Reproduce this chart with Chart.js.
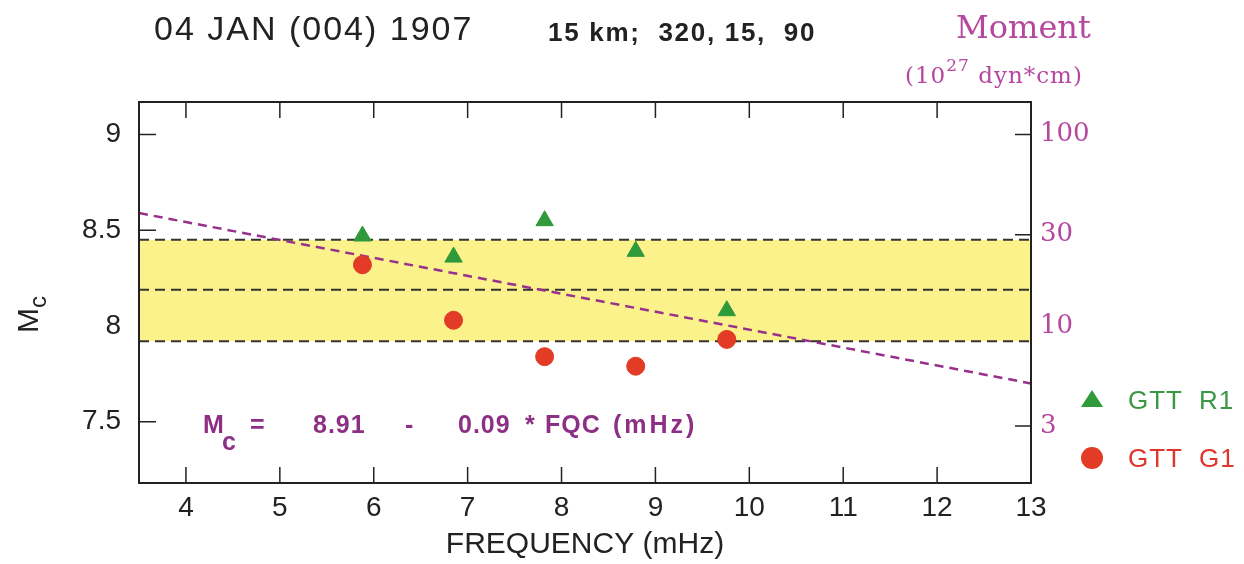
<!DOCTYPE html>
<html>
<head>
<meta charset="utf-8">
<script src="https://cdn.jsdelivr.net/npm/chart.js@4.4.1/dist/chart.umd.min.js"></script>
<style>
    html, body { margin: 0; padding: 0; background: #fff; }
    #wrap { position: relative; width: 1244px; height: 564px; overflow: hidden; }
    #myChart { position: absolute; left: 0; top: 0; }
    .txt { position: absolute; white-space: pre; line-height: 1; }
    .sans { font-family: "Liberation Sans", Arial, sans-serif; }
    .serif { font-family: "DejaVu Serif", serif; color: #b5479e; }
    .eq { font-family: "Liberation Sans", Arial, sans-serif; font-size: 25px; font-weight: bold; letter-spacing: 1px; color: #8c2f85; }
</style>
</head>
<body>
<div id="wrap">
    <canvas id="myChart" width="1244" height="564"></canvas>

    <!-- header -->
    <div class="txt sans" style="left:154px; top:11px; font-size:34px; letter-spacing:2px; color:#222;">04 JAN (004) 1907</div>
    <div class="txt sans" style="left:548px; top:19px; font-size:26px; font-weight:bold; letter-spacing:1.7px; color:#222;">15 km;  320, 15,  90</div>
    <div class="txt serif" style="left:956px; top:11px; font-size:32px;">Moment</div>
    <div class="txt serif" style="left:905px; top:64px; font-size:23px; letter-spacing:1px;">(10<span style="position:relative; top:-12px; font-size:17px;">27</span> dyn*cm)</div>

    <!-- y axis title, rotated -->
    <div class="txt sans" style="left:6px; top:290px; width:50px; height:36px; font-size:30px; color:#222; transform:rotate(-90deg); transform-origin:center;">M<span style="position:relative; top:8px; font-size:24px;">c</span></div>

    <!-- fit equation -->
    <div class="txt eq" style="left:203px; top:412px;">M</div>
    <div class="txt eq" style="left:222px; top:429px;">c</div>
    <div class="txt eq" style="left:250px; top:412px;">=</div>
    <div class="txt eq" style="left:313px; top:412px;">8.91</div>
    <div class="txt eq" style="left:405px; top:412px;">-</div>
    <div class="txt eq" style="left:458px; top:412px;">0.09</div>
    <div class="txt eq" style="left:525px; top:412px;">*</div>
    <div class="txt eq" style="left:545px; top:412px;">FQC</div>
    <div class="txt eq" style="left:613px; top:412px; letter-spacing:3px;">(mHz)</div>

    <!-- legend -->
    <div style="position:absolute; left:1081px; top:390px; width:0; height:0; border-left:11px solid transparent; border-right:11px solid transparent; border-bottom:17px solid #2f9a3a;"></div>
    <div class="txt sans" style="left:1128px; top:387px; font-size:26px; letter-spacing:1px; color:#3a9845;">GTT  R1</div>
    <div style="position:absolute; left:1081px; top:447px; width:22px; height:22px; border-radius:50%; background:#e23b26;"></div>
    <div class="txt sans" style="left:1128px; top:445px; font-size:26px; letter-spacing:1px; color:#e0352b;">GTT  G1</div>
</div>

<script>
// values
const freqR1 = [5.88, 6.85, 7.82, 8.79, 9.76];
const mcR1 = [8.47, 8.36, 8.55, 8.39, 8.08];
const freqG1 = [5.88, 6.85, 7.82, 8.79, 9.76];
const mcG1 = [8.32, 8.03, 7.84, 7.79, 7.93];

const fitFreq = [3.5, 13];
const fitMc = [8.59, 7.70];

const bandFreq = [3.5, 13];
const bandUpper = [8.45, 8.45];
const bandMid = [8.19, 8.19];
const bandLower = [7.92, 7.92];

const xTicks = [4, 5, 6, 7, 8, 9, 10, 11, 12, 13];
const yTicks = [7.5, 8, 8.5, 9];
const momentTicks = [3, 10, 30, 100];

const X_MIN = 3.5, X_MAX = 13;
const MC_MIN = 7.18, MC_MAX = 9.17;

const green = '#2f9a3a';
const red = '#e23b26';
const magenta = '#b5479e';
const fitColour = '#97318b';
const ink = '#222';

function pts(xs, ys) {
    return xs.map((x, i) => ({ x: x, y: ys[i] }));
}

// frame round the plot plus the short inward ticks on all four sides
const frameTicks = {
    id: 'frameTicks',
    beforeDraw(chart) {
        const ctx = chart.ctx;
        const a = chart.chartArea;
        const sx = chart.scales.x, sy = chart.scales.y, sm = chart.scales.moment;
        ctx.save();
        ctx.strokeStyle = ink;
        ctx.lineWidth = 1.5;
        ctx.beginPath();
        for (const v of xTicks) {
            const px = sx.getPixelForValue(v);
            ctx.moveTo(px, a.bottom); ctx.lineTo(px, a.bottom - 16);
            ctx.moveTo(px, a.top); ctx.lineTo(px, a.top + 16);
        }
        for (const v of yTicks) {
            const py = sy.getPixelForValue(v);
            ctx.moveTo(a.left, py); ctx.lineTo(a.left + 17, py);
        }
        for (const v of momentTicks) {
            const py = sm.getPixelForValue(v);
            ctx.moveTo(a.right, py); ctx.lineTo(a.right - 16, py);
        }
        ctx.stroke();
        ctx.restore();
    },
    afterDatasetsDraw(chart) {
        const ctx = chart.ctx;
        const a = chart.chartArea;
        ctx.save();
        ctx.strokeStyle = ink;
        ctx.lineWidth = 2;
        ctx.strokeRect(a.left, a.top, a.right - a.left, a.bottom - a.top);
        ctx.restore();
    }
};

const ctx = document.getElementById('myChart').getContext('2d');
const chart = new Chart(ctx, {
    type: 'line',
    data: {
        datasets: [
            {
                label: 'GTT R1',
                data: pts(freqR1, mcR1),
                showLine: false,
                pointStyle: 'triangle',
                pointRadius: 10,
                pointBackgroundColor: green,
                pointBorderColor: green,
                pointBorderWidth: 1
            },
            {
                label: 'GTT G1',
                data: pts(freqG1, mcG1),
                showLine: false,
                pointStyle: 'circle',
                pointRadius: 9,
                pointBackgroundColor: red,
                pointBorderColor: red,
                pointBorderWidth: 1
            },
            {
                label: 'fit',
                data: pts(fitFreq, fitMc),
                borderColor: fitColour,
                borderWidth: 2.5,
                borderDash: [9, 6],
                pointRadius: 0,
                fill: false
            },
            {
                label: 'upper',
                data: pts(bandFreq, bandUpper),
                borderColor: '#333',
                borderWidth: 2,
                borderDash: [10, 6],
                pointRadius: 0,
                backgroundColor: '#fbf28c',
                fill: 5
            },
            {
                label: 'mean',
                data: pts(bandFreq, bandMid),
                borderColor: '#333',
                borderWidth: 2,
                borderDash: [10, 6],
                pointRadius: 0,
                fill: false
            },
            {
                label: 'lower',
                data: pts(bandFreq, bandLower),
                borderColor: '#333',
                borderWidth: 2,
                borderDash: [10, 6],
                pointRadius: 0,
                fill: false
            }
        ]
    },
    options: {
        responsive: false,
        animation: false,
        events: [],
        layout: { padding: { top: 102, right: 0, bottom: 0, left: 0 } },
        plugins: {
            legend: { display: false },
            tooltip: { enabled: false },
            filler: { drawTime: 'beforeDatasetsDraw' }
        },
        scales: {
            x: {
                type: 'linear',
                position: 'bottom',
                min: X_MIN,
                max: X_MAX,
                afterBuildTicks: s => { s.ticks = xTicks.map(v => ({ value: v })); },
                afterFit: s => { s.height = 81; },
                grid: { display: false, drawTicks: false },
                border: { display: false },
                ticks: {
                    color: ink,
                    font: { family: '"Liberation Sans", Arial, sans-serif', size: 28 },
                    padding: 8,
                    maxRotation: 0,
                    autoSkip: false
                },
                title: {
                    display: true,
                    text: 'FREQUENCY (mHz)',
                    color: ink,
                    font: { family: '"Liberation Sans", Arial, sans-serif', size: 30 },
                    padding: { top: 0, bottom: 1 }
                }
            },
            y: {
                position: 'left',
                min: MC_MIN,
                max: MC_MAX,
                afterBuildTicks: s => { s.ticks = yTicks.map(v => ({ value: v })); },
                afterFit: s => { s.width = 139; },
                grid: { display: false, drawTicks: false },
                border: { display: false },
                ticks: {
                    color: ink,
                    font: { family: '"Liberation Sans", Arial, sans-serif', size: 28 },
                    padding: 18,
                    callback: v => String(v)
                }
            },
            moment: {
                type: 'logarithmic',
                position: 'right',
                min: Math.pow(10, MC_MIN - 7),
                max: Math.pow(10, MC_MAX - 7),
                afterBuildTicks: s => { s.ticks = momentTicks.map(v => ({ value: v })); },
                afterFit: s => { s.width = 213; },
                grid: { display: false, drawTicks: false },
                border: { display: false },
                ticks: {
                    color: magenta,
                    font: { family: '"DejaVu Serif", serif', size: 26 },
                    padding: 9,
                    callback: v => String(v)
                }
            }
        }
    },
    plugins: [frameTicks]
});
</script>
</body>
</html>
